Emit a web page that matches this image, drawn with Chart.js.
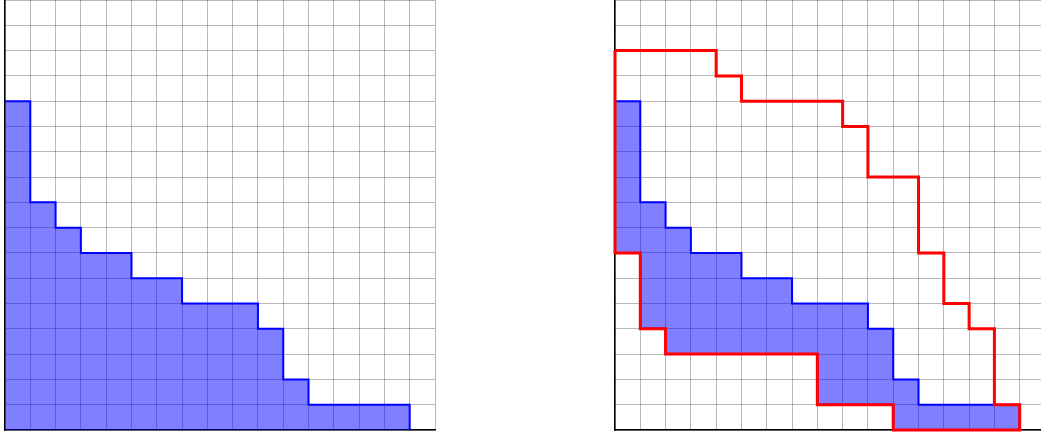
<!DOCTYPE html>
<html lang="en">

<head>
    <meta charset="UTF-8">
    <title>Skew shape diagrams</title>
    <script src="https://cdn.jsdelivr.net/npm/chart.js"></script>
    <style>
        body {
            margin: 0;
            padding: 0;
            background: #fff;
            overflow: hidden;
            width: 1041px;
            height: 435px;
            position: relative;
        }

        canvas {
            position: absolute;
            top: 0;
        }

        #leftChart {
            left: 0;
        }

        #rightChart {
            left: 610px;
        }
    </style>
</head>

<body>
    <canvas id="leftChart" width="440" height="435"></canvas>
    <canvas id="rightChart" width="440" height="435"></canvas>

    <script>
        // column heights, one entry per unit column starting at x = 0
        const innerTop = [13, 9, 8, 7, 7, 6, 6, 5, 5, 5, 4, 2, 1, 1, 1, 1];
        const skewBottom = [7, 4, 3, 3, 3, 3, 3, 3, 1, 1, 1, 0, 0, 0, 0, 0];
        const outerTop = [15, 15, 15, 15, 14, 13, 13, 13, 13, 12, 10, 10, 7, 5, 4, 1];
        const gridMax = 17;

        // walk the top of the columns left to right
        function topSteps(heights) {
            const pts = [];
            heights.forEach((h, i) => {
                pts.push({ x: i, y: h });
                pts.push({ x: i + 1, y: h });
            });
            return pts;
        }

        // walk the bottom of the columns right to left
        function bottomSteps(heights) {
            const pts = [];
            for (let i = heights.length - 1; i >= 0; i--) {
                pts.push({ x: i + 1, y: heights[i] });
                pts.push({ x: i, y: heights[i] });
            }
            return pts;
        }

        function region(top, bottom) {
            const pts = topSteps(top).concat(bottomSteps(bottom));
            pts.push(pts[0]);
            return pts;
        }

        function axisOptions() {
            return {
                type: 'linear',
                min: 0,
                max: gridMax,
                ticks: { display: false, stepSize: 1 },
                grid: { color: 'rgba(0,0,0,0.28)', lineWidth: 1, drawTicks: false },
                border: { display: true, color: '#000', width: 1.5 }
            };
        }

        function chartOptions() {
            return {
                responsive: false,
                animation: false,
                layout: { padding: { left: 5, right: 5, top: 0, bottom: 5 } },
                plugins: { legend: { display: false }, tooltip: { enabled: false } },
                scales: { x: axisOptions(), y: axisOptions() }
            };
        }

        // left diagram: filled shape, outline only on the sides away from the axes
        const leftOutline = topSteps(innerTop);
        leftOutline.push({ x: innerTop.length, y: 0 });
        const leftFill = leftOutline.concat([{ x: 0, y: 0 }, leftOutline[0]]);

        new Chart(document.getElementById('leftChart'), {
            type: 'scatter',
            data: {
                datasets: [{
                    data: leftOutline,
                    showLine: true,
                    fill: false,
                    borderColor: '#0000ff',
                    borderWidth: 2,
                    pointRadius: 0,
                    clip: false,
                    order: 0
                }, {
                    data: leftFill,
                    showLine: true,
                    fill: 'shape',
                    backgroundColor: 'rgba(0,0,255,0.5)',
                    borderColor: 'rgba(0,0,0,0)',
                    borderWidth: 0,
                    pointRadius: 0,
                    clip: false,
                    order: 1
                }]
            },
            options: chartOptions()
        });

        new Chart(document.getElementById('rightChart'), {
            type: 'scatter',
            data: {
                datasets: [{
                    data: region(outerTop, skewBottom),
                    showLine: true,
                    fill: false,
                    borderColor: '#ff0000',
                    borderWidth: 3,
                    pointRadius: 0,
                    clip: false,
                    order: 0
                }, {
                    data: region(innerTop, skewBottom),
                    showLine: true,
                    fill: 'shape',
                    backgroundColor: 'rgba(0,0,255,0.5)',
                    borderColor: '#0000ff',
                    borderWidth: 2,
                    pointRadius: 0,
                    clip: false,
                    order: 1
                }]
            },
            options: chartOptions()
        });
    </script>
</body>

</html>
